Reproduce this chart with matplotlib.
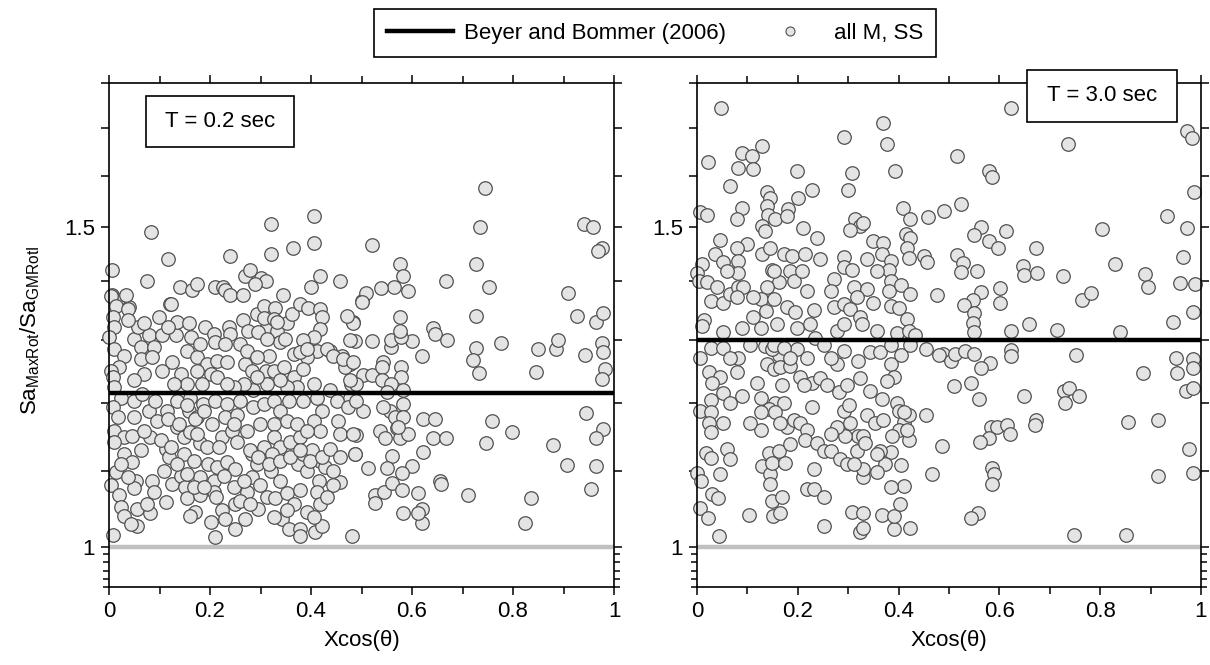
import numpy as np
import matplotlib
matplotlib.use('Agg')
import matplotlib.pyplot as plt
from matplotlib.lines import Line2D
from matplotlib.patches import Rectangle
from matplotlib.ticker import NullFormatter

plt.rcParams['font.family'] = ['Liberation Sans', 'DejaVu Sans']
plt.rcParams['mathtext.fontset'] = 'custom'
plt.rcParams['mathtext.rm'] = 'Liberation Sans'
plt.rcParams['mathtext.it'] = 'Liberation Sans:italic'

# ===== DATA =====
periods = ['T = 0.2 sec', 'T = 3.0 sec']
bb2006 = [1.215, 1.30]          # Beyer and Bommer (2006) ratio
unit_ratio = 1.0

x_major = [0, 0.2, 0.4, 0.6, 0.8, 1.0]
x_labels = ['0', '0.2', '0.4', '0.6', '0.8', '1']
x_minor = [0.1, 0.3, 0.5, 0.7, 0.9]
y_major = [1.0, 1.1, 1.2, 1.3, 1.4, 1.5, 1.6, 1.7, 1.8]
y_labels = ['1', '', '', '', '', '1.5', '', '', '']
y_minor = [0.95, 0.96, 0.97, 0.98, 0.99]

# T = 0.2 sec  (x = Xcos(theta), y = SaMaxRot/SaGMRotI)
pts_02 = [
    (0.083, 1.49), (0.116, 1.44), (0.24, 1.445), (0.32, 1.505), (0.32, 1.45), (0.365, 1.46),
    (0.406, 1.52), (0.405, 1.47), (0.006, 1.42), (0.075, 1.40), (0.27, 1.41), (0.28, 1.42),
    (0.30, 1.405), (0.31, 1.40), (0.29, 1.395), (0.418, 1.41), (0.40, 1.39), (0.457, 1.40),
    (0.14, 1.39), (0.165, 1.385), (0.175, 1.395), (0.21, 1.39), (0.225, 1.39), (0.23, 1.385),
    (0.24, 1.375), (0.265, 1.375), (0.345, 1.375), (0.12, 1.36), (0.005, 1.375), (0.03, 1.37),
    (0.04, 1.355), (0.5, 1.365),
    (0.744, 1.576), (0.734, 1.50), (0.94, 1.505), (0.958, 1.50), (0.977, 1.46), (0.968, 1.455),
    (0.52, 1.465), (0.576, 1.43), (0.582, 1.41), (0.592, 1.383), (0.564, 1.39), (0.538, 1.388),
    (0.509, 1.379), (0.501, 1.364), (0.667, 1.40), (0.726, 1.43), (0.753, 1.39), (0.726, 1.34),
    (0.909, 1.38), (0.927, 1.34), (0.964, 1.33), (0.978, 1.345), (0.641, 1.32), (0.645, 1.31),
    (0.67, 1.30), (0.777, 1.295), (0.727, 1.287), (0.72, 1.267), (0.732, 1.246), (0.85, 1.284),
    (0.886, 1.284), (0.89, 1.30), (0.846, 1.248), (0.943, 1.275), (0.977, 1.295), (0.978, 1.279),
    (0.982, 1.253), (0.976, 1.237), (0.62, 1.274), (0.60, 1.297), (0.52, 1.297), (0.487, 1.297),
    (0.945, 1.185), (0.978, 1.161), (0.965, 1.148), (0.88, 1.138), (0.759, 1.173), (0.799, 1.156),
    (0.747, 1.14), (0.907, 1.109), (0.964, 1.107), (0.955, 1.076), (0.836, 1.063), (0.824, 1.03),
    (0.71, 1.068), (0.621, 1.176), (0.645, 1.176), (0.641, 1.148), (0.668, 1.148), (0.621, 1.128),
    (0.655, 1.087), (0.657, 1.082), (0.619, 1.049), (0.619, 1.03), (0.611, 1.043), (0.582, 1.044),
    (0.611, 1.07), (0.60, 1.107), (0.481, 1.014), (0.527, 1.067), (0.527, 1.057), (0.544, 1.071),
    (0.56, 1.084), (0.58, 1.098), (0.56, 1.122), (0.58, 1.075), (0.513, 1.105), (0.55, 1.105),
    (0.487, 1.125), (0.489, 1.152), (0.503, 1.188), (0.536, 1.158), (0.546, 1.147), (0.57, 1.162),
    (0.576, 1.148), (0.592, 1.154),
    (0.484, 1.33), (0.477, 1.26), (0.48, 1.229), (0.503, 1.243), (0.52, 1.243), (0.543, 1.264),
    (0.54, 1.256), (0.54, 1.235), (0.559, 1.288), (0.559, 1.299), (0.579, 1.304), (0.576, 1.315),
    (0.576, 1.338), (0.579, 1.256), (0.579, 1.24), (0.559, 1.229), (0.582, 1.219), (0.55, 1.217),
    (0.477, 1.208), (0.582, 1.198), (0.556, 1.188), (0.543, 1.193), (0.566, 1.178), (0.582, 1.178),
    (0.572, 1.163),
    (0.004, 1.374), (0.013, 1.357), (0.034, 1.376), (0.037, 1.352), (0.007, 1.338), (0.01, 1.321),
    (0.0, 1.304), (0.01, 1.285), (0.03, 1.274), (0.02, 1.256), (0.004, 1.25), (0.007, 1.24),
    (0.099, 1.338), (0.122, 1.36), (0.05, 1.301), (0.057, 1.321), (0.079, 1.307), (0.063, 1.288),
    (0.089, 1.288), (0.063, 1.269), (0.086, 1.272), (0.105, 1.307), (0.132, 1.307), (0.135, 1.33),
    (0.158, 1.327), (0.155, 1.282), (0.125, 1.264), (0.105, 1.25), (0.069, 1.245), (0.05, 1.235),
    (0.142, 1.245), (0.175, 1.272), (0.194, 1.261), (0.191, 1.321), (0.207, 1.31), (0.21, 1.296),
    (0.237, 1.321), (0.24, 1.31), (0.23, 1.293), (0.214, 1.266), (0.234, 1.264), (0.201, 1.245),
    (0.175, 1.25), (0.155, 1.229), (0.184, 1.229), (0.214, 1.24), (0.266, 1.332), (0.276, 1.315),
    (0.293, 1.343), (0.306, 1.357), (0.329, 1.354), (0.313, 1.321), (0.332, 1.315), (0.339, 1.296),
    (0.316, 1.274), (0.352, 1.327), (0.362, 1.343), (0.379, 1.36), (0.395, 1.354), (0.418, 1.351),
    (0.421, 1.338), (0.418, 1.318), (0.405, 1.304), (0.385, 1.299), (0.411, 1.282), (0.366, 1.277),
    (0.392, 1.272), (0.438, 1.282), (0.461, 1.274), (0.467, 1.256), (0.27, 1.261), (0.283, 1.25),
    (0.31, 1.25), (0.326, 1.25), (0.346, 1.256), (0.366, 1.24), (0.385, 1.253), (0.484, 1.327),
    (0.471, 1.34), (0.477, 1.299), (0.49, 1.229), (0.477, 1.235),
    (0.01, 1.224), (0.023, 1.208), (0.007, 1.193), (0.017, 1.178), (0.05, 1.203), (0.066, 1.214),
    (0.079, 1.188), (0.092, 1.203), (0.115, 1.188), (0.128, 1.229), (0.135, 1.203), (0.161, 1.208),
    (0.158, 1.188), (0.175, 1.178), (0.187, 1.198), (0.21, 1.203), (0.234, 1.198), (0.23, 1.178),
    (0.253, 1.181), (0.26, 1.203), (0.286, 1.219), (0.286, 1.193), (0.306, 1.198), (0.326, 1.203),
    (0.339, 1.188), (0.326, 1.168), (0.356, 1.203), (0.372, 1.224), (0.385, 1.203), (0.405, 1.229),
    (0.411, 1.208), (0.421, 1.188), (0.405, 1.173), (0.418, 1.158), (0.438, 1.219), (0.451, 1.203),
    (0.454, 1.173), (0.474, 1.193), (0.49, 1.203), (0.457, 1.153),
    (0.01, 1.158), (0.03, 1.149), (0.046, 1.151), (0.01, 1.142), (0.063, 1.13), (0.082, 1.149),
    (0.03, 1.125), (0.046, 1.113), (0.013, 1.099), (0.004, 1.081), (0.02, 1.067), (0.023, 1.052),
    (0.03, 1.039), (0.056, 1.049), (0.056, 1.027), (0.082, 1.043), (0.053, 1.086), (0.05, 1.077),
    (0.086, 1.086), (0.089, 1.072), (0.112, 1.058), (0.109, 1.101), (0.125, 1.083), (0.142, 1.094),
    (0.112, 1.132), (0.135, 1.163), (0.148, 1.149), (0.161, 1.156), (0.119, 1.12), (0.148, 1.125),
    (0.168, 1.115), (0.181, 1.14), (0.194, 1.135), (0.175, 1.153), (0.204, 1.168), (0.224, 1.149),
    (0.243, 1.158), (0.253, 1.142), (0.217, 1.135), (0.197, 1.11), (0.214, 1.106), (0.234, 1.113),
    (0.25, 1.103), (0.181, 1.092), (0.207, 1.087), (0.227, 1.094), (0.151, 1.079), (0.155, 1.063),
    (0.181, 1.067), (0.207, 1.072), (0.224, 1.047), (0.25, 1.056), (0.273, 1.072), (0.171, 1.045),
    (0.161, 1.039), (0.201, 1.032), (0.21, 1.012), (0.23, 1.036), (0.25, 1.023), (0.27, 1.036),
    (0.296, 1.049), (0.313, 1.065), (0.283, 1.092), (0.299, 1.081), (0.283, 1.125), (0.293, 1.11),
    (0.306, 1.135), (0.326, 1.149), (0.339, 1.135), (0.323, 1.125), (0.32, 1.101), (0.339, 1.087),
    (0.329, 1.063), (0.352, 1.07), (0.379, 1.074), (0.375, 1.11), (0.392, 1.101), (0.385, 1.125),
    (0.359, 1.142), (0.379, 1.149), (0.402, 1.13), (0.418, 1.115), (0.428, 1.106), (0.415, 1.087),
    (0.411, 1.072), (0.418, 1.056), (0.366, 1.056), (0.392, 1.045), (0.342, 1.036), (0.356, 1.023),
    (0.379, 1.023), (0.379, 1.014), (0.408, 1.018), (0.421, 1.027), (0.457, 1.085), (0.444, 1.081),
    (0.484, 1.153), (0.487, 1.125), (0.007, 1.015),
    (0.306, 1.337), (0.326, 1.334), (0.296, 1.312), (0.313, 1.301), (0.332, 1.33), (0.349, 1.301),
    (0.379, 1.279), (0.392, 1.285), (0.431, 1.285), (0.444, 1.274), (0.464, 1.269), (0.484, 1.264),
    (0.096, 1.173), (0.116, 1.176), (0.139, 1.168), (0.155, 1.196), (0.171, 1.176), (0.188, 1.188),
    (0.28, 1.13), (0.296, 1.12), (0.316, 1.11), (0.339, 1.115), (0.359, 1.12), (0.379, 1.13),
    (0.398, 1.115), (0.421, 1.12), (0.438, 1.132), (0.037, 1.332), (0.07, 1.327), (0.116, 1.321),
    (0.162, 1.304), (0.181, 1.293), (0.26, 1.293), (0.273, 1.282), (0.293, 1.272), (0.05, 1.178),
    (0.069, 1.158), (0.102, 1.144), (0.122, 1.135), (0.135, 1.11), (0.155, 1.096), (0.168, 1.078),
    (0.188, 1.078), (0.211, 1.065), (0.247, 1.078), (0.267, 1.087), (0.26, 1.06), (0.28, 1.056),
    (0.326, 1.038), (0.352, 1.047), (0.405, 1.038), (0.431, 1.065), (0.444, 1.101), (0.457, 1.12),
    (0.023, 1.11), (0.037, 1.092), (0.076, 1.056), (0.043, 1.029), (0.352, 1.173), (0.372, 1.168),
    (0.392, 1.158), (0.299, 1.168), (0.273, 1.158), (0.247, 1.168), (0.352, 1.224), (0.339, 1.235),
    (0.313, 1.229), (0.293, 1.24), (0.267, 1.229), (0.247, 1.224), (0.234, 1.229),
]

# T = 3.0 sec
pts_30 = [
    (0.048, 1.744), (0.022, 1.629), (0.129, 1.662), (0.089, 1.647), (0.109, 1.641), (0.111, 1.614),
    (0.082, 1.616), (0.066, 1.58), (0.139, 1.568), (0.145, 1.556), (0.139, 1.54), (0.199, 1.61),
    (0.229, 1.572), (0.2, 1.556), (0.292, 1.681), (0.37, 1.71), (0.376, 1.665), (0.308, 1.606),
    (0.3, 1.572), (0.392, 1.61), (0.006, 1.528), (0.02, 1.523), (0.089, 1.536), (0.079, 1.515),
    (0.141, 1.523), (0.155, 1.515), (0.129, 1.502), (0.135, 1.492), (0.181, 1.534), (0.179, 1.52),
    (0.211, 1.498), (0.239, 1.479), (0.314, 1.515), (0.324, 1.502), (0.304, 1.494), (0.33, 1.507),
    (0.408, 1.536), (0.423, 1.515), (0.459, 1.518), (0.491, 1.53), (0.046, 1.476), (0.099, 1.468),
    (0.08, 1.461), (0.35, 1.474), (0.37, 1.47), (0.414, 1.486), (0.423, 1.479), (0.417, 1.461),
    (0.45, 1.446), (0.457, 1.435), (0.42, 1.442), (0.477, 1.376), (0.489, 1.277), (0.487, 1.136),
    (0.467, 1.097), (0.455, 1.182),
    (0.044, 1.013), (0.103, 1.041), (0.252, 1.027), (0.324, 1.018), (0.33, 1.024), (0.39, 1.023),
    (0.423, 1.024), (0.308, 1.045), (0.33, 1.043), (0.368, 1.041), (0.39, 1.04), (0.41, 1.08),
    (0.402, 1.055), (0.384, 1.078), (0.006, 1.05), (0.022, 1.037), (0.0, 1.098), (0.008, 1.087),
    (0.03, 1.069), (0.042, 1.064), (0.151, 1.04), (0.165, 1.043), (0.149, 1.06), (0.169, 1.065),
    (0.219, 1.076), (0.233, 1.076), (0.252, 1.065),
    (0.036, 1.45), (0.052, 1.434), (0.082, 1.437), (0.01, 1.43), (0.0, 1.415), (0.003, 1.40),
    (0.02, 1.398), (0.04, 1.39), (0.027, 1.365), (0.052, 1.362), (0.066, 1.377), (0.082, 1.39),
    (0.082, 1.415), (0.092, 1.39), (0.079, 1.373), (0.129, 1.45), (0.145, 1.46), (0.149, 1.42),
    (0.172, 1.45), (0.189, 1.446), (0.185, 1.418), (0.215, 1.45), (0.245, 1.44), (0.162, 1.398),
    (0.192, 1.40), (0.209, 1.418), (0.218, 1.383), (0.139, 1.39), (0.126, 1.368), (0.136, 1.348),
    (0.152, 1.368), (0.179, 1.355), (0.195, 1.347), (0.232, 1.35), (0.112, 1.338), (0.089, 1.32),
    (0.126, 1.32), (0.159, 1.326), (0.199, 1.32), (0.225, 1.326), (0.235, 1.303), (0.013, 1.332),
    (0.01, 1.323), (0.052, 1.312), (0.271, 1.355), (0.291, 1.36), (0.291, 1.443), (0.291, 1.425),
    (0.271, 1.404), (0.308, 1.42), (0.337, 1.44), (0.311, 1.39), (0.337, 1.386), (0.35, 1.362),
    (0.317, 1.372), (0.304, 1.352), (0.324, 1.338), (0.327, 1.326), (0.278, 1.314), (0.291, 1.326),
    (0.367, 1.45), (0.384, 1.437), (0.38, 1.42), (0.384, 1.40), (0.38, 1.383), (0.404, 1.394),
    (0.423, 1.377), (0.384, 1.356), (0.40, 1.353), (0.417, 1.334), (0.397, 1.311), (0.42, 1.314),
    (0.433, 1.308), (0.357, 1.314),
    (0.006, 1.27), (0.027, 1.286), (0.023, 1.248), (0.046, 1.24), (0.03, 1.23), (0.082, 1.27),
    (0.079, 1.248), (0.052, 1.215), (0.066, 1.2), (0.089, 1.21), (0.027, 1.204), (0.006, 1.188),
    (0.027, 1.186), (0.023, 1.169), (0.027, 1.157), (0.017, 1.126), (0.027, 1.119), (0.059, 1.131),
    (0.066, 1.117), (0.119, 1.23), (0.139, 1.26), (0.135, 1.289), (0.162, 1.275), (0.149, 1.284),
    (0.152, 1.252), (0.165, 1.255), (0.185, 1.257), (0.169, 1.228), (0.126, 1.207), (0.155, 1.2),
    (0.172, 1.2), (0.142, 1.19), (0.126, 1.186), (0.126, 1.159), (0.155, 1.186), (0.179, 1.164),
    (0.199, 1.284), (0.218, 1.27), (0.205, 1.24), (0.228, 1.23), (0.245, 1.238), (0.258, 1.228),
    (0.212, 1.228), (0.192, 1.174), (0.205, 1.169), (0.218, 1.159), (0.228, 1.193), (0.215, 1.145),
    (0.238, 1.14), (0.251, 1.129), (0.265, 1.129), (0.232, 1.103), (0.284, 1.117), (0.297, 1.11),
    (0.317, 1.129), (0.32, 1.15), (0.294, 1.15), (0.278, 1.164), (0.291, 1.188), (0.301, 1.196),
    (0.281, 1.216), (0.297, 1.228), (0.278, 1.26), (0.324, 1.238), (0.32, 1.265), (0.344, 1.28),
    (0.364, 1.28), (0.384, 1.26), (0.39, 1.24), (0.377, 1.233), (0.367, 1.206), (0.337, 1.181),
    (0.354, 1.169), (0.37, 1.174), (0.397, 1.2), (0.40, 1.188), (0.41, 1.171), (0.40, 1.159),
    (0.42, 1.145), (0.387, 1.15), (0.384, 1.127), (0.364, 1.129), (0.374, 1.11), (0.33, 1.15),
    (0.357, 1.124), (0.334, 1.14), (0.417, 1.159), (0.42, 1.181), (0.41, 1.186), (0.142, 1.126),
    (0.162, 1.129), (0.129, 1.107), (0.145, 1.096), (0.149, 1.112), (0.175, 1.112), (0.145, 1.083),
    (0.33, 1.092), (0.33, 1.103), (0.311, 1.11), (0.454, 1.284), (0.48, 1.275), (0.503, 1.265),
    (0.152, 1.292), (0.172, 1.286), (0.185, 1.27), (0.052, 1.286), (0.066, 1.27), (0.106, 1.292),
    (0.251, 1.292), (0.265, 1.27), (0.291, 1.281), (0.384, 1.292), (0.404, 1.275), (0.423, 1.292),
    (0.106, 1.169), (0.052, 1.169), (0.165, 1.169), (0.265, 1.154), (0.304, 1.169), (0.344, 1.218),
    (0.357, 1.099), (0.404, 1.109), (0.046, 1.096), (0.185, 1.139), (0.357, 1.419), (0.265, 1.383),
    (0.152, 1.419), (0.06, 1.419), (0.112, 1.372),
    (0.624, 1.744), (0.736, 1.665), (0.515, 1.641), (0.579, 1.61), (0.585, 1.598), (0.972, 1.694),
    (0.982, 1.679), (0.986, 1.568), (0.523, 1.544), (0.932, 1.52), (0.972, 1.498), (0.803, 1.496),
    (0.563, 1.5), (0.549, 1.485), (0.579, 1.474), (0.598, 1.461), (0.614, 1.492), (0.672, 1.461),
    (0.515, 1.447), (0.527, 1.433), (0.523, 1.417), (0.555, 1.418), (0.646, 1.428), (0.648, 1.411),
    (0.674, 1.415), (0.726, 1.41), (0.829, 1.43), (0.889, 1.413), (0.895, 1.39), (0.964, 1.444),
    (0.958, 1.397), (0.988, 1.395), (0.563, 1.381), (0.547, 1.367), (0.529, 1.359), (0.549, 1.344),
    (0.547, 1.328), (0.549, 1.313), (0.602, 1.388), (0.602, 1.361), (0.763, 1.367), (0.781, 1.379),
    (0.658, 1.326), (0.624, 1.315), (0.714, 1.316), (0.839, 1.313), (0.944, 1.33), (0.984, 1.347),
    (0.511, 1.277), (0.531, 1.282), (0.549, 1.277), (0.581, 1.262), (0.563, 1.254), (0.624, 1.283),
    (0.624, 1.273), (0.751, 1.275), (0.95, 1.27), (0.952, 1.246), (0.984, 1.268), (0.984, 1.254),
    (0.97, 1.218), (0.984, 1.223), (0.885, 1.246), (0.509, 1.226), (0.543, 1.231), (0.559, 1.205),
    (0.648, 1.211), (0.728, 1.218), (0.738, 1.223), (0.757, 1.211), (0.73, 1.2), (0.855, 1.171),
    (0.915, 1.174), (0.583, 1.164), (0.596, 1.163), (0.616, 1.166), (0.622, 1.154), (0.579, 1.148),
    (0.561, 1.142), (0.672, 1.174), (0.67, 1.167), (0.586, 1.105), (0.59, 1.097), (0.586, 1.083),
    (0.976, 1.131), (0.915, 1.094), (0.984, 1.098), (0.557, 1.044), (0.543, 1.037), (0.748, 1.015),
    (0.851, 1.015),
]

# ===== STYLE / LAYOUT =====
FACE = '#e4e4e4'
EDGE = '#505050'
FS = 16
W, H = 1210, 665

fig = plt.figure(figsize=(W / 100, H / 100), dpi=100)
ax_rects = [
    [109 / W, 1 - 587 / H, 505 / W, 504 / H],
    [697 / W, 1 - 587 / H, 504 / W, 504 / H],
]
# label boxes in axes fraction (x0, y0, w, h)
label_boxes = [(0.073, 0.873, 0.293, 0.101), (0.655, 0.923, 0.297, 0.103)]

for i, pts in enumerate([pts_02, pts_30]):
    ax = fig.add_axes(ax_rects[i])
    xs, ys = np.array(pts).T
    ax.scatter(xs, ys, s=95, facecolor=FACE, edgecolor=EDGE, linewidths=0.9,
               zorder=2, clip_on=False)
    ax.axhline(bb2006[i], color='black', lw=3.2, zorder=3)
    ax.axhline(unit_ratio, color='#c0c0c0', lw=3.2, zorder=1)

    ax.set_yscale('log')
    ax.set_xlim(0, 1)
    ax.set_ylim(0.95, 1.8)
    ax.set_xticks(x_major, x_labels)
    ax.set_xticks(x_minor, minor=True)
    ax.set_yticks(y_major, y_labels)
    ax.set_yticks(y_minor, minor=True)
    ax.yaxis.set_minor_formatter(NullFormatter())
    ax.tick_params(which='both', direction='out', top=True, right=True,
                   width=1.1, labelsize=FS, pad=4)
    ax.tick_params(which='major', length=6)
    ax.tick_params(which='minor', length=4)
    ax.tick_params(axis='x', which='minor', length=5)
    for sp in ax.spines.values():
        sp.set_linewidth(1.2)
    ax.set_xlabel('Xcos(θ)', fontsize=FS, labelpad=6)

    bx, by, bw, bh = label_boxes[i]
    ax.add_patch(Rectangle((bx, by), bw, bh, transform=ax.transAxes, facecolor='white',
                           edgecolor='black', lw=1.2, zorder=5, clip_on=False))
    ax.text(bx + bw / 2, by + bh / 2, periods[i], transform=ax.transAxes,
            ha='center', va='center', fontsize=FS, zorder=6)

fig.text(30 / W, 1 - 330 / H, r'Sa$_{\mathrm{MaxRot}}$/Sa$_{\mathrm{GMRotI}}$',
         rotation=90, ha='center', va='center', fontsize=FS)

handles = [
    Line2D([], [], color='black', lw=3.2),
    Line2D([], [], ls='none', marker='o', ms=6.5, mfc=FACE, mec=EDGE, mew=0.8),
]
fig.legend(handles, ['Beyer and Bommer (2006)', 'all M, SS'], loc='center',
           bbox_to_anchor=(655 / W, 1 - 33 / H), ncol=2, fontsize=FS,
           handlelength=2.95, handletextpad=0.5, columnspacing=1.4,
           borderpad=0.6, frameon=True, fancybox=False, edgecolor='black',
           framealpha=1).get_frame().set_linewidth(1.2)

fig.savefig('out.png', dpi=100)
